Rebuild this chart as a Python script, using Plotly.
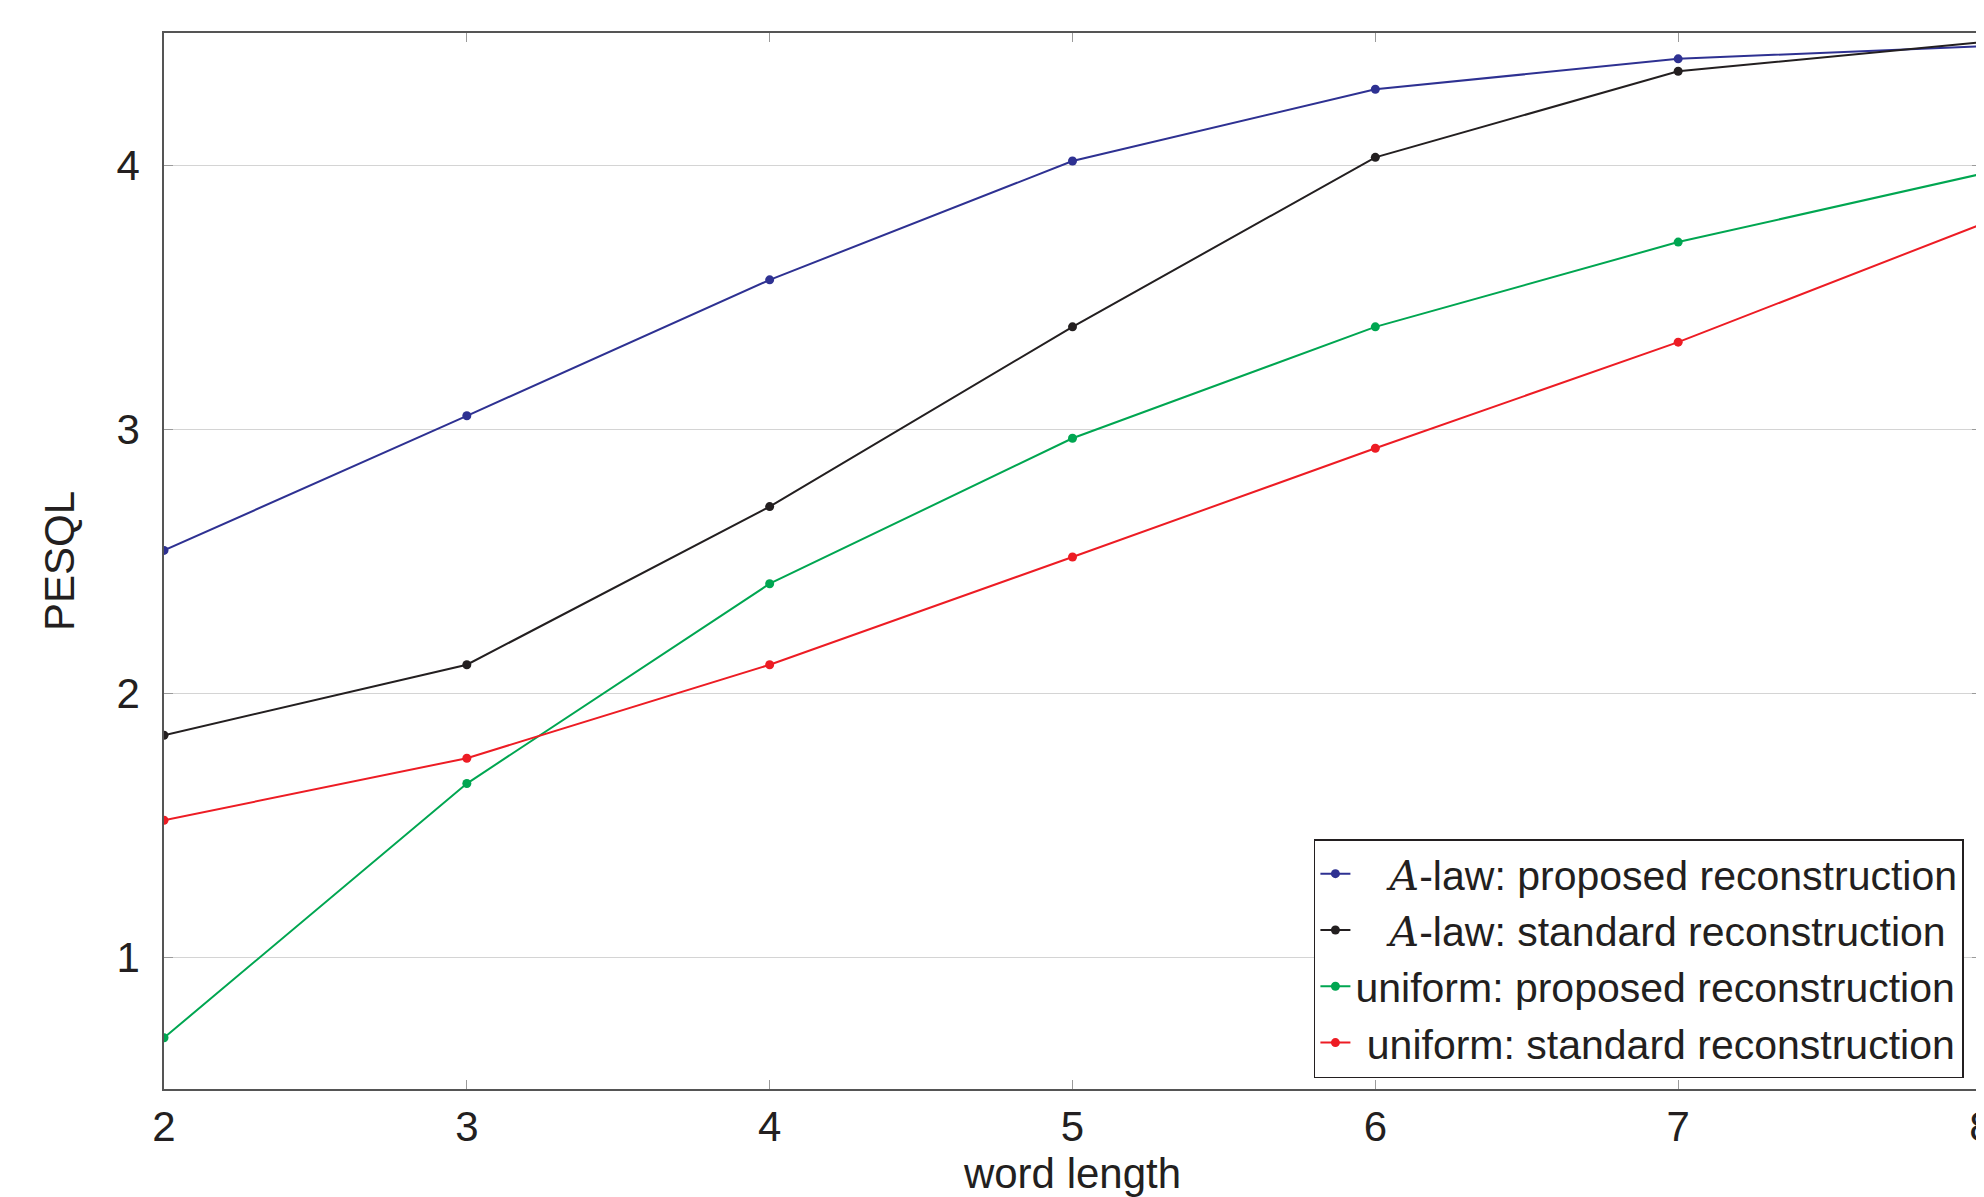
import plotly.graph_objects as go

word_length = [2, 3, 4, 5, 6, 7, 8]
alaw_proposed = [2.54, 3.05, 3.565, 4.015, 4.287, 4.402, 4.45]
alaw_standard = [1.84, 2.107, 2.706, 3.387, 4.029, 4.355, 4.465]
uniform_proposed = [0.694, 1.657, 2.414, 2.965, 3.387, 3.708, 3.966]
uniform_standard = [1.518, 1.753, 2.107, 2.515, 2.927, 3.329, 3.775]

A = "<span style=\"font-family:'DejaVu Serif','Liberation Serif',serif;font-style:italic\">A</span>"
NB = "\u00a0"
names = [
    NB * 3 + A + "-law: proposed reconstruction",
    NB * 3 + A + "-law: standard reconstruction",
    "uniform: proposed reconstruction",
    NB + "uniform: standard reconstruction",
]
series = [alaw_proposed, alaw_standard, uniform_proposed, uniform_standard]
colors = ["#2E3192", "#231F20", "#00A651", "#ED1C24"]

fig = go.Figure()
for name, ys, c in zip(names, series, colors):
    fig.add_trace(go.Scatter(
        x=word_length, y=ys, name=name, mode="lines+markers",
        line=dict(color=c, width=2),
        marker=dict(color=c, size=9),
    ))

FAM = "Liberation Sans, Arial, Helvetica, sans-serif"

fig.update_layout(
    width=1984, height=1197,
    margin=dict(l=156, r=11, t=25, b=116),
    paper_bgcolor="white", plot_bgcolor="white",
    font=dict(family=FAM, size=42, color="#231F20"),
    showlegend=True,
    legend=dict(
        x=0.9906, y=0.0104, xanchor="right", yanchor="bottom",
        bgcolor="white", bordercolor="#231F20", borderwidth=1.5,
        font=dict(family=FAM, size=41, color="#231F20"),
        tracegroupgap=0, itemwidth=30,
    ),
    xaxis=dict(
        range=[2, 8], tickvals=word_length, ticktext=[str(v) for v in word_length],
        showgrid=False, zeroline=False, automargin=False,
        showline=True, linecolor="#555555", linewidth=1.5, mirror="ticks",
        ticks="inside", ticklen=9, tickcolor="#9a9a9a", tickwidth=1,
        ticklabelstandoff=0, ticklabeloverflow="allow", tickfont=dict(size=42),
        title=dict(text="word length", standoff=6, font=dict(size=42)),
    ),
    yaxis=dict(
        range=[0.5, 4.5], tickvals=[1, 2, 3, 4],
        showgrid=True, gridcolor="#d4d4d4", gridwidth=1, zeroline=False, automargin=False,
        showline=True, linecolor="#555555", linewidth=1.5, mirror="ticks",
        ticks="inside", ticklen=9, tickcolor="#9a9a9a", tickwidth=1,
        ticklabelstandoff=14, tickfont=dict(size=42),
        title=dict(text="PESQL", standoff=29, font=dict(size=42)),
    ),
)

fig.write_html("out.html")
